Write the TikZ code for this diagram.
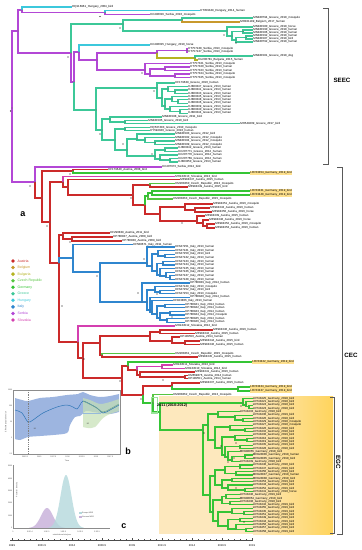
\documentclass[tikz,border=0pt]{standalone}
\usepackage{fontspec}
\setmainfont{Liberation Sans}
\usetikzlibrary{positioning}
\definecolor{WnvAustria}{HTML}{CC2A2A}
\definecolor{WnvBelgium}{HTML}{C8992C}
\definecolor{WnvBulgaria}{HTML}{B5B320}
\definecolor{WnvCzech}{HTML}{55C540}
\definecolor{WnvGermany}{HTML}{35C535}
\definecolor{WnvGreece}{HTML}{3CC898}
\definecolor{WnvHungary}{HTML}{3CC8DC}
\definecolor{WnvItaly}{HTML}{2F86CF}
\definecolor{WnvSerbia}{HTML}{B347D6}
\definecolor{WnvSlovakia}{HTML}{D43FB0}
\definecolor{WnvHl}{HTML}{FFE18E}
\definecolor{WnvEgcL}{HTML}{FDE8BD}
\definecolor{WnvEgcR}{HTML}{FFD45C}
\definecolor{WnvSkyBlue}{HTML}{8DA9DB}
\definecolor{WnvSkyLine}{HTML}{2E75B6}
\definecolor{WnvSkyGreen}{HTML}{C5E0B4}
\definecolor{WnvSkyGLine}{HTML}{6FA58A}
\definecolor{WnvTeal}{HTML}{B4D9DC}
\definecolor{WnvLilac}{HTML}{C9B3DB}

\newcommand{\tipfont}{\fontsize{2.9}{3.1}\selectfont}
\newcommand{\axfont}{\fontsize{2.7}{2.9}\selectfont}
\newcommand{\minifont}{\fontsize{1.9}{2.1}\selectfont}

% internal nodes of the tree: name/x/y
\newcommand{\innerlist}{%
R0/12/108, A/18/31, B/22/10, D/105/12.5, N1/71/53, U/123/24, V/182/20,
W/227/31, W2/232/36, W3/243/31.5, W4/236/40, W5/246/37.5, N2/74/82, N3/79/52,
P1/97/60, Q/157/53, Q2/187/50.5, R/195/58, S/145/70, S1/150/74, S2/165/69,
S3/175/76, LG/96/110, LGa/157/88, KJc/162/98, KJd/168/89, KJe/175/91.6,
KJf/165/106, KJg/172/99, KJi/178/101.6, KJh/170/109, KJj/180/111.6,
LGb/102/130, LGb1/110/119, X1/125/122, LGb2/115/140, X2/125/129, X3/127/150,
X4/137/139, X4a/145/140, X4b/155/142.5, X5/155/156, X5a/165/150, X5b/160/159,
X5c/170/160,
CEC0/35/182, CEC1/42/198, CA/73/171, CB/50/222, CC/63/182, CC1/68/187,
CC2/133/195, CE/150/185, CF/145/205, CG/148/196, CG1/152/193, CH/160/214,
CH1/185/207, CH1a/195/210, CH2/197/221, CH2a/203/223, CH2b/207/226,
CD/59/263, CD1/63/235, CD2/72/239, IT0/73/258, IT1/100/272, ITa/147/263,
ITa1/152/266, ITa2/158/254, ITa3/165/256, ITa4/157/271, ITa5/163/263.2,
ITa6/160/275, ITa7/166/276, ITa8/170/277.6, ITb/142/302, ITb1/147/302,
ITb2/155/290, ITb3/160/292, ITb4/150/310, ITb5/152/312, ITb6/157/314,
ITb7/165/306, ITb8/160/318, ITb9/170/313, ITb10/167/320, CM/78/342,
CN/83/358, CO/100/343, CO1/150/336, CO1a/160/332, CO1b/172/341, CO1c/185/343,
CO2/102/355, CP/122/378, CQ/128/366, CV/137/370, CW/162/366.75, CX/140/375,
CZ/185/377, CR/143/395, CS/172/386, CT/238/389, CU/153/403, E0/160/412,
E1/243/403, E1a/246/405, E1b/249/406.8, E2/203/430, E3/208/425, E3a/218/414,
E3c/235/417, E3d/243/420, E3b/215/440, E3e/230/427, E3g/245/430, E3f/222/448,
E3h/235/437, E3h2/247/440, E3i/225/455, E3j/240/446.7, E3k/228/457,
E3l/232/460, E3m/245/456.7, E4/210/495, E5/215/476, E5a/225/470,
E5c/240/466.6, E5d/236/473.3, E5b/222/485, E5e/232/480, E5f/228/488,
E5g/245/490, E6/213/512, E6a/222/500, E6c/226/496.6, E6d/230/503.2,
E6b/218/521, E6e/232/512, E6e2/244/513.2, E6f/228/526, E6g/240/519.9,
E6h/236/529, E6h2/246/529.9}

\begin{document}
\begin{tikzpicture}[x=1pt,y=-1pt,
    tip/.style={anchor=west,inner xsep=0.4pt,inner ysep=0.45pt,outer sep=0pt,font=\tipfont},
    tiphl/.style={tip,fill=WnvHl,inner ysep=0.8pt},
    br/.style={line width=1.1pt},
    clade/.style={draw=black!65,line width=0.7pt},
    cladelab/.style={font=\bfseries\fontsize{6.2}{6.2}\selectfont},
    panel/.style={font=\bfseries\fontsize{9}{9}\selectfont},
    leg/.style={anchor=west,inner sep=0pt,font=\fontsize{3.5}{3.5}\selectfont},
    axlab/.style={inner sep=0pt,font=\axfont},
    mini/.style={inner sep=0pt,font=\minifont,text=black!70}
  ]
  \fill[white] (0,0) rectangle (362,550);
  \useasboundingbox (0,0) rectangle (362,550);

  % EGC box
  \fill[WnvEgcL] (159,396) rectangle (333,534);
  \shade[left color=WnvEgcL,right color=WnvEgcR] (253,396) rectangle (333,534);

  \foreach \n/\x/\y in \innerlist \coordinate (\n) at (\x,\y);

  % SEEC tips
  \foreach \n/\x/\y/\t in {
    hu1/72/7/DQ116961\_Hungary\_2004\_bird, hu2/200/10.5/KT359349\_Hungary\_2014\_human,
    rs1/150/14.5/KC496016\_Serbia\_2010\_mosquito, gr1/253/18/MN480794\_Greece\_2018\_mosquito,
    be1/240/22/MH021189\_Belgium\_2017\_human, gr2/253/27/MN481580\_Greece\_2018\_horse,
    gr3/253/30/MN481590\_Greece\_2018\_human, gr4/253/33/MN481586\_Greece\_2018\_human,
    gr5/253/36/MN481592\_Greece\_2018\_human, gr6/253/39/MN481587\_Greece\_2018\_bird,
    gr7/253/42/MN480792\_Greece\_2018\_human, hu3/150/45/KC496015\_Hungary\_2010\_horse,
    rs2/188/49/KT757248\_Serbia\_2013\_mosquito, rs3/188/52/KT757247\_Serbia\_2013\_mosquito,
    gr8/253/56/MN481581\_Greece\_2018\_dog, bg1/198/60/KU206781\_Bulgaria\_2015\_human,
    rs4/190/63.5/KT757321\_Serbia\_2013\_mosquito, rs5/190/67/KT757320\_Serbia\_2013\_human,
    rs6/190/70.5/KT757323\_Serbia\_2013\_human, rs7/190/74/KT757324\_Serbia\_2013\_mosquito,
    rs8/190/77.5/KT757325\_Serbia\_2013\_mosquito, gr9/175/83/KF179639\_Greece\_2010\_human,
    gr10/162/117/MN481588\_Greece\_2011\_bird, gr11/148/120.5/MN481585\_Greece\_2010\_bird,
    gr12/240/123.5/MH549209\_Greece\_2017\_bird, gr13/150/127.5/HQ537483\_Greece\_2010\_mosquito,
    gr14/150/130.5/KY594040\_Greece\_2010\_human, gr15/175/134/MN481583\_Greece\_2012\_bird,
    gr16/175/137.5/MN481582\_Greece\_2012\_mosquito, gr17/175/141/MN481584\_Greece\_2012\_mosquito,
    gr18/175/144.5/MN481589\_Greece\_2012\_mosquito, gr19/178/148/KJ883342\_Greece\_2013\_human,
    gr20/178/151.5/KC207771\_Greece\_2012\_human, gr21/178/155/KC207770\_Greece\_2012\_human,
    gr22/178/158.5/KC207769\_Greece\_2012\_human, gr23/178/162/KJ883350\_Greece\_2013\_human}
    \node[tip] (\n) at (\x,\y) {\t};
  \foreach \t [count=\i from 1] in {KJ883347,KJ883341,KJ883343,KJ883345,KJ883348,KJ883346,KJ883339,KJ883340,KJ883344}
    \node[tip] (kj\i) at (188,{83.4+3.3*\i}) {\t\_Greece\_2013\_human};

  % CEC tips
  \foreach \n/\x/\y/\t in {
    rs9/162/167/KC407673\_Serbia\_2012\_bird, at1/108/169.5/KF179640\_Austria\_2008\_bird,
    sk1/175/176.5/MH244513\_Slovakia\_2013\_bird, at2/180/179.5/MF984347\_Austria\_2015\_human,
    cz1/175/183.5/KM203860\_Czech\_Republic\_2013\_mosquito, at3/188/187/MF984349\_Austria\_2015\_bird,
    cz2/173/199/KM203863\_Czech\_Republic\_2015\_mosquito, at4/213/204/MF984351\_Austria\_2016\_mosquito,
    at5/210/208/MF984343\_Austria\_2016\_human, at6/212/212/MF984350\_Austria\_2016\_horse,
    at7/205/216/MF984339\_Austria\_2015\_human, at8/209/220/MF984348\_Austria\_2016\_horse,
    at9/215/224/MF984352\_Austria\_2016\_mosquito, at10/215/228/MF984353\_Austria\_2016\_human,
    at11/110/233/KF290839\_Austria\_2011\_bird, at12/113/237/KP780837\_Austria\_2008\_bird,
    at13/122/241/KP780838\_Austria\_2009\_bird, it0/133/244.5/KF588671\_Italy\_2011\_human,
    sk2/175/326/MH244512\_Slovakia\_2012\_bird, at14/213/330/MF984340\_Austria\_2016\_human,
    at15/195/333.5/MF984342\_Austria\_2015\_human, at16/180/337/KP109550\_Austria\_2014\_human,
    at17/200/341/MF984344\_Austria\_2015\_bird, at18/200/344.5/MF984346\_Austria\_2015\_human,
    cz3/175/353.5/KM203861\_Czech\_Republic\_2015\_mosquito, at19/198/357/MF984345\_Austria\_2015\_human,
    sk3/173/365/MH244511\_Slovakia\_2013\_bird, sk4/185/368.5/MH244510\_Slovakia\_2014\_bird,
    at20/195/372/MF984341\_Austria\_2016\_human, at21/188/375.5/KM659876\_Austria\_2014\_human,
    at22/188/378.5/KP109551\_Austria\_2014\_human, at23/200/383/MF984337\_Austria\_2015\_human,
    cz4/173/394.5/KM203862\_Czech\_Republic\_2013\_mosquito}
    \node[tip] (\n) at (\x,\y) {\t};
  \foreach \n/\x/\y/\t in {
    de1/250/173/LR743454, de2/250/191/LR743431, de3/250/195/LR743448,
    de4/252/362/LR743422, de5/250/387/LR743434, de6/250/391/LR743437}
    \node[tiphl] (\n) at (\x,\y) {\t\_Germany\_2019\_bird};

  % Italy tips
  \foreach \t [count=\i from 0] in {KF647251\_Italy\_2013\_human,KF647241\_Italy\_2013\_human,
    KF647250\_Italy\_2013\_bird,KF647242\_Italy\_2013\_human,KF647243\_Italy\_2013\_human,
    KF647244\_Italy\_2013\_human,KF647245\_Italy\_2013\_human,KF647246\_Italy\_2013\_human,
    KF647247\_Italy\_2013\_human,KF647248\_Italy\_2013\_human}
    \node[tip] (ita\i) at (175,{247+3.6*\i}) {\t};
  \foreach \x/\t [count=\i from 0] in {190/KP780839\_Italy\_2014\_human,175/KF647249\_Italy\_2013\_mosquito,
    175/KF647252\_Italy\_2013\_bird,175/KF647253\_Italy\_2013\_mosquito,190/KP780840\_Italy\_2014\_human,
    173/KF823806\_Italy\_2013\_human,185/KP780841\_Italy\_2014\_human,185/KP780842\_Italy\_2014\_human,
    185/KP780843\_Italy\_2014\_human,185/KP780844\_Italy\_2014\_mosquito,185/KP780845\_Italy\_2014\_human,
    185/KP780846\_Italy\_2014\_human}
    \node[tip] (itb\i) at (\x,{283+3.55*\i}) {\t};

  % EGC tips
  \foreach \x/\t [count=\i from 0] in {
    252.5/LR743425\_Germany\_2018\_bird,252.5/LR743421\_Germany\_2018\_bird,252.5/LR743424\_Germany\_2018\_bird,
    252.5/LR743423\_Germany\_2018\_bird,239.5/LR743433\_Germany\_2018\_bird,252.5/LR743430\_Germany\_2019\_bird,
    252.5/LR743420\_Germany\_2018\_bird,252.5/LR743429\_Germany\_2018\_mosquito,252.5/LR743427\_Germany\_2018\_mosquito,
    252.5/LR743426\_Germany\_2018\_bird,252.5/LR743432\_Germany\_2018\_bird,252.5/LR743436\_Germany\_2019\_bird,
    252.5/LR743418\_Germany\_2018\_bird,252.5/LR743419\_Germany\_2018\_bird,252.5/LR743435\_Germany\_2019\_bird,
    252.5/LR743428\_Germany\_2018\_bird,239.5/MH986055\_Germany\_2018\_bird,252.5/MH924836\_Germany\_2018\_human,
    252.5/MH924835\_Germany\_2018\_bird,239.5/LR743439\_Germany\_2018\_bird,252.5/LR743440\_Germany\_2018\_bird,
    252.5/LR743447\_Germany\_2019\_bird,252.5/LR743450\_Germany\_2019\_bird,252.5/MH924837\_Germany\_2018\_human,
    252.5/MH924838\_Germany\_2018\_bird,252.5/LR743453\_Germany\_2019\_bird,252.5/LR743443\_Germany\_2019\_bird,
    252.5/LR743452\_Germany\_2019\_bird,252.5/LR743441\_Germany\_2018\_horse,239.5/LR743446\_Germany\_2019\_bird,
    239.5/MH986054\_Germany\_2018\_bird,239.5/LR743438\_Germany\_2018\_bird,252.5/LR743442\_Germany\_2019\_bird,
    252.5/LR743455\_Germany\_2019\_bird,252.5/LR743445\_Germany\_2019\_bird,252.5/LR743451\_Germany\_2019\_bird,
    252.5/LR743449\_Germany\_2019\_bird,252.5/LR743444\_Germany\_2019\_bird,252.5/LR743456\_Germany\_2019\_bird,
    252.5/LR743457\_Germany\_2019\_bird,252.5/LR743458\_Germany\_2019\_bird}
    \node[tip] (eg\i) at (\x,{398.5+3.325*\i}) {\t};

  % branches
  \foreach \p/\c in {R0/A, R0/CEC0, A/B, B/D, D/rs1, A/N1, N1/N2, N2/N3, N3/P1, P1/Q, Q/Q2,
    Q2/rs2, Q2/rs3, P1/S, S/rs4, S/S1, S1/S2, S1/S3, S2/rs5, S2/rs6, S3/rs7, S3/rs8, CEC0/rs9}
    \draw[br,WnvSerbia] (\p) |- (\c);
  \foreach \p/\c in {B/hu1, D/hu2, N3/hu3} \draw[br,WnvHungary] (\p) |- (\c);
  \draw[br,WnvBelgium] (V) |- (be1);
  \foreach \p/\c in {Q/R, R/bg1} \draw[br,WnvBulgaria] (\p) |- (\c);
  \foreach \p/\c in {N1/U, U/V, V/gr1, U/W, W/gr2, W/W2, W2/W3, W2/W4, W3/gr3, W3/gr4, W4/W5,
    W4/gr7, W5/gr5, W5/gr6, R/gr8, N2/LG, LG/LGa, LG/LGb, LGa/gr9, LGa/KJc, KJc/KJd, KJc/KJf,
    KJd/kj1, KJd/KJe, KJe/kj2, KJe/kj3, KJf/KJg, KJf/KJh, KJg/kj4, KJg/KJi, KJi/kj5, KJi/kj6,
    KJh/kj7, KJh/KJj, KJj/kj8, KJj/kj9, LGb/LGb1, LGb/LGb2, LGb1/gr10, LGb1/X1, X1/gr11,
    X1/gr12, LGb2/X2, LGb2/X3, X2/gr13, X2/gr14, X3/X4, X3/X5, X4/gr15, X4/X4a, X4a/gr16,
    X4a/X4b, X4b/gr17, X4b/gr18, X5/X5a, X5/X5b, X5a/gr19, X5a/gr20, X5b/gr21, X5b/X5c,
    X5c/gr22, X5c/gr23}
    \draw[br,WnvGreece] (\p) |- (\c);
  \foreach \p/\c in {CEC0/CEC1, CEC1/CA, CA/at1, CEC1/CB, CB/CC, CC/CC1, CC1/at2, CC1/CC2,
    CC2/CE, CE/at3, CC2/CF, CF/CH, CH/CH1, CH1/at4, CH1/CH1a, CH1a/at5, CH1a/at6, CH/CH2,
    CH2/at7, CH2/CH2a, CH2a/at8, CH2a/CH2b, CH2b/at9, CH2b/at10, CB/CD, CD/CD1, CD1/at11,
    CD1/CD2, CD2/at12, CD2/at13, CD/CM, CM/CN, CN/CO, CO/CO1, CO1/CO1a, CO1a/at14,
    CO1a/at15, CO1/CO1b, CO1b/at16, CO1b/CO1c, CO1c/at17, CO1c/at18, CO/CO2, CO2/at19,
    CN/CP, CP/CQ, CQ/CV, CV/CX, CX/at20, CX/CZ, CZ/at21, CZ/at22, CP/CR, CR/CS, CS/at23}
    \draw[br,WnvAustria] (\p) |- (\c);
  \foreach \p/\c in {CC/sk1, CM/sk2, CV/CW, CW/sk3, CW/sk4} \draw[br,WnvSlovakia] (\p) |- (\c);
  \foreach \p/\c in {CE/cz1, CG/cz2, CO2/cz3, CU/cz4} \draw[br,WnvCzech] (\p) |- (\c);
  \foreach \p/\c in {CD/IT0, IT0/it0, IT0/IT1, IT1/ITa, IT1/ITb, ITa/ita0, ITa/ITa1, ITa1/ITa2,
    ITa1/ITa4, ITa2/ita1, ITa2/ITa3, ITa3/ita2, ITa3/ita3, ITa4/ITa5, ITa4/ITa6, ITa5/ita4,
    ITa5/ita5, ITa6/ita6, ITa6/ITa7, ITa7/ita7, ITa7/ITa8, ITa8/ita8, ITa8/ita9, ITb/itb0,
    ITb/ITb1, ITb1/ITb2, ITb1/ITb4, ITb2/itb1, ITb2/ITb3, ITb3/itb2, ITb3/itb3, ITb4/itb4,
    ITb4/ITb5, ITb5/itb5, ITb5/ITb6, ITb6/ITb7, ITb6/ITb8, ITb7/itb6, ITb7/itb7, ITb8/ITb9,
    ITb8/ITb10, ITb9/itb8, ITb9/itb9, ITb10/itb10, ITb10/itb11}
    \draw[br,WnvItaly] (\p) |- (\c);
  \foreach \p/\c in {CA/de1, CF/CG, CG/CG1, CG1/de2, CG1/de3, CQ/de4, CS/CT, CT/de5, CT/de6,
    CR/CU, CU/E0, E0/E1, E1/eg0, E1/E1a, E1a/eg1, E1a/E1b, E1b/eg2, E1b/eg3, E0/E2, E2/E3,
    E2/E4, E3/E3a, E3/E3b, E3a/eg4, E3a/E3c, E3c/eg5, E3c/E3d, E3d/eg6, E3d/eg7, E3b/E3e,
    E3b/E3f, E3e/eg8, E3e/E3g, E3g/eg9, E3g/eg10, E3f/E3h, E3f/E3i, E3h/eg11, E3h/E3h2,
    E3h2/eg12, E3h2/eg13, E3i/E3j, E3i/E3k, E3j/eg14, E3j/eg15, E3k/eg16, E3k/E3l, E3l/E3m,
    E3l/eg19, E3m/eg17, E3m/eg18, E4/E5, E4/E6, E5/E5a, E5/E5b, E5a/E5c, E5a/E5d, E5c/eg20,
    E5c/eg21, E5d/eg22, E5d/eg23, E5b/E5e, E5b/E5f, E5e/eg24, E5e/eg25, E5f/eg26, E5f/E5g,
    E5g/eg27, E5g/eg28, E6/E6a, E6/E6b, E6a/E6c, E6a/E6d, E6c/eg29, E6c/eg30, E6d/eg31,
    E6d/eg32, E6b/E6e, E6b/E6f, E6e/eg33, E6e/E6e2, E6e2/eg34, E6e2/eg35, E6f/E6g, E6f/E6h,
    E6g/eg36, E6g/eg37, E6h/eg38, E6h/E6h2, E6h2/eg39, E6h2/eg40}
    \draw[br,WnvGermany] (\p) |- (\c);

  % node points and posterior marks
  \foreach \n/\x/\y in \innerlist \fill[black!60] (\n) circle (0.55);
  \foreach \x/\y in {100/16.5, 120/28, 224/35, 236/43, 68/57, 142/73, 154/91, 10.5/111,
    30/186, 70/174, 100/134, 123/144, 152/154, 131/198, 182/223, 47/226, 70/242, 144/259,
    97/276, 138/293, 157/294, 172/317, 62/306, 84/359, 163/380, 120/381, 141/399, 241/406,
    204/433, 221/446, 236/443, 234/458, 228/462, 236/488, 244/522}
    \fill[black] (\x,\y) circle (0.6);

  % time of the EGC ancestor
  \draw[WnvGermany!50,line width=1.1pt] (151.5,397.5) rectangle (157.5,413);
  \node[anchor=west,inner sep=0pt,font=\bfseries\fontsize{3.8}{4}\selectfont] (mrca) at (157,406) {2011 (2010-2012)};

  % clade brackets
  \draw[clade] (323,8) -- (328,8) -- (328,164) -- (323,164);
  \node[cladelab] (seec) at (342,80) {SEEC};
  \draw[clade] (337,167) -- (342,167) -- (342,534) -- (337,534);
  \node[cladelab] (cec) at (351,355) {CEC};
  \draw[clade] (330,397) -- (334,397) -- (334,533) -- (330,533);
  \node[cladelab,rotate=-90] (egc) at (338.3,462) {EGC};

  % legend
  \foreach \c/\t [count=\i from 0] in {WnvAustria/Austria, WnvBelgium/Belgium,
    WnvBulgaria/Bulgaria, WnvCzech/Czech Republic, WnvGermany/Germany, WnvGreece/Greece,
    WnvHungary/Hungary, WnvItaly/Italy, WnvSerbia/Serbia, WnvSlovakia/Slovakia}
    {\fill[\c] (13,{261+6.55*\i}) circle (1.9);
     \node[leg,text=\c] (lg\i) at (17.5,{261+6.55*\i}) {\t};}

  % time axis
  \draw[black!70,line width=0.4pt] (10,540) -- (253,540);
  \foreach \k in {0,...,40} \draw[black!70,line width=0.3pt] ({12+6*\k},539) -- ({12+6*\k},540);
  \foreach \t [count=\i from 0] in {1999,2001.5,2004,2006.5,2009,2011.5,2014,2016.5,2019}
    {\draw[black!70,line width=0.3pt] ({12+30*\i},538) -- ({12+30*\i},540);
     \node[axlab] (yr\i) at ({12+30*\i},545.5) {\t};}

  % panel labels
  \node[panel] (pa) at (23,214) {a};
  \node[panel] (pb) at (128,451) {b};
  \node[panel] (pc) at (124,526) {c};

  % inset b: skyline
  \fill[WnvSkyBlue,opacity=0.85] plot[smooth] coordinates {(15,398) (22,400) (28,401) (40,398)
    (53,397) (67,395) (78,394) (83,392) (90,395) (100,397) (110,396) (119,394)}
    -- plot[smooth] coordinates {(119,412) (110,414) (100,413) (93,412) (86,411) (80,416)
    (75,417) (70,425) (67,433) (53,435) (40,436) (28,437) (20,440) (15,439)} -- cycle;
  \fill[WnvSkyGreen,opacity=0.7] plot[smooth] coordinates {(83,398) (90,400) (100,404)
    (110,402) (119,399)} -- plot[smooth] coordinates {(119,411) (110,414) (103,418) (95,427)
    (88,428) (83,427)} -- cycle;
  \draw[WnvSkyLine,line width=0.5pt] plot[smooth] coordinates {(15,410) (22,413) (28,422)
    (33,420) (43,413) (57,407) (67,405) (73,407) (77,409) (80,405) (83,401) (90,404) (97,408)
    (103,413) (110,410) (119,405)};
  \draw[WnvSkyGLine,line width=0.5pt] plot[smooth] coordinates {(83,401) (95,407) (103,412)
    (110,409) (119,404)};
  \draw[WnvSkyLine!50,line width=0.4pt] (83,413) -- (101,413);
  \draw[black!45,line width=0.3pt] (13,390) rectangle (120,454);
  \draw[black!50,dash pattern=on 1pt off 0.8pt,line width=0.3pt] (28,390) -- (28,454);
  \node[mini] (bn1) at (35,429) {N1};
  \node[mini] (bn2) at (88,424) {N2};
  \foreach \t [count=\i from 0] in {2002.5,2005,2007.5,2010,2012.5,2015,2017.5}
    \node[mini] (bx\i) at ({25+14.2*\i},457) {\t};
  \node[mini] (btime) at (67,461) {Time};
  \foreach \t [count=\i from 0] in {1000,100,10,1,0.1}
    \node[mini,anchor=east] (by\i) at (12.5,{390+16*\i}) {\t};
  \node[mini,rotate=90] (btitle) at (6,422) {Effective population size};

  % inset c: rate densities
  \fill[WnvLilac,opacity=0.85] plot[domain=29:65,samples=40,smooth]
    (\x,{528-20*exp(-((\x-47)*(\x-47))/72)}) -- cycle;
  \fill[WnvTeal,opacity=0.8] plot[domain=48:84,samples=40,smooth]
    (\x,{528-53*exp(-((\x-66)*(\x-66))/60.5)}) -- cycle;
  \draw[black!45,line width=0.3pt] (13,465) -- (13,528) -- (110,528);
  \foreach \t [count=\i from 0] in {5000,4000,3000,2000,1000,0}
    \node[mini,anchor=east] (cy\i) at (12.5,{466+12.4*\i}) {\t};
  \node[mini,rotate=90] (ctitle) at (17,490) {Posterior density};
  \foreach \t [count=\i from 0] in {0,5.0E-4,1.0E-3,1.5E-3,2.0E-3,2.5E-3}
    \node[mini] (cx\i) at ({13+16.8*\i},531.5) {\t};
  \node[mini] (cxt) at (62,535.5) {substitutions/site/year};
  \fill[WnvTeal] (79,512) rectangle (81.5,514);
  \node[mini,anchor=west] (ceu) at (82,513) {Europe MRR};
  \fill[WnvLilac] (79,516) rectangle (81.5,518);
  \node[mini,anchor=west] (cde) at (82,517) {German MRR};
\end{tikzpicture}
\end{document}
